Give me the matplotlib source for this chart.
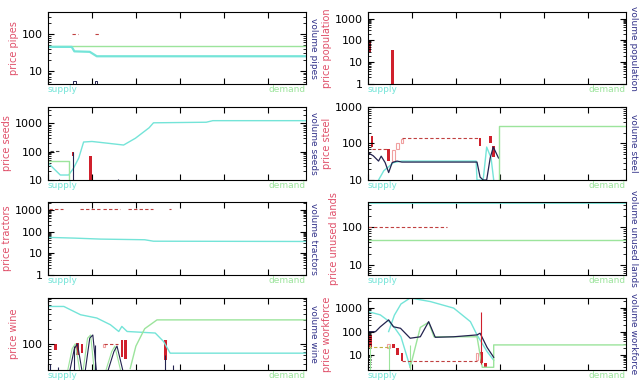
import matplotlib
matplotlib.use("Agg")
import matplotlib.pyplot as plt
from matplotlib.ticker import LogLocator, FuncFormatter, NullFormatter

# colours
CYAN = "#74e4d8"
GREEN = "#9ce49c"
NAVY = "#23234f"
RED = "#d0202c"
PINK = "#f0a0a0"
DASH = "#c04040"

# ---- pipes ----
pipes_green_x = [0, 587]
pipes_green_y = [47, 47]
pipes_cyan_x = [0, 54, 60, 95, 111, 587]
pipes_cyan_y = [45, 45, 34, 33, 25, 25]
pipes_price = [(54, 68, 100), (107, 118, 102)]
pipes_vol_box = [(60, 4.4, 5.2), (109, 4.4, 5.2)]

# ---- population ----
pop_bar_x = [3, 56]
pop_bar_lo = [30, 1]
pop_bar_hi = [100, 35]

# ---- seeds ----
seeds_cyan_x = [0, 28, 47, 58, 70, 81, 100, 135, 172, 199, 230, 240, 360, 375, 587]
seeds_cyan_y = [40, 15, 15, 26, 60, 220, 230, 200, 172, 300, 700, 1050, 1100, 1250, 1250]
seeds_green_x = [0, 47, 47]
seeds_green_y = [48, 48, 10]
seeds_price = [(5, 30, 105)]
seeds_candle_x = [57, 96]
seeds_candle_lo = [70, 10]
seeds_candle_hi = [95, 70]
seeds_vol_x = [57, 25, 160]
seeds_vol_hi = [95, 11, 11]

# ---- steel ----
steel_navy_x = [0, 12, 24, 30, 39, 47, 55, 66, 77, 248, 255, 262, 270, 278, 285, 290, 297]
steel_navy_y = [56, 46, 33, 45, 30, 16, 30, 33, 31, 31, 12, 10, 10, 40, 80, 60, 40]
steel_cyan_x = [24, 36, 45, 58, 77, 246, 248, 262, 270, 280, 286]
steel_cyan_y = [10, 18, 22, 30, 33, 33, 10, 10, 80, 40, 10]
steel_green_x = [297, 297, 587]
steel_green_y = [10, 300, 300]
steel_price = [(9, 47, 72), (77, 255, 145)]
steel_candle_x = [9, 47, 255, 278, 286]
steel_candle_lo = [78, 33, 83, 100, 42]
steel_candle_hi = [160, 70, 146, 160, 83]
steel_open_x = [58, 67, 77]
steel_open_lo = [33, 70, 100]
steel_open_hi = [65, 100, 130]

# ---- tractors ----
tractors_cyan_x = [0, 60, 120, 220, 240, 587]
tractors_cyan_y = [54, 50, 45, 42, 36, 35]
tractors_price = [(2, 35, 1050), (73, 118, 1050), (126, 164, 1050), (183, 240, 1050), (276, 280, 1050)]

# ---- unused lands ----
lands_green_y = [46, 46]
lands_cyan_y = [470, 470]
lands_price = [(0, 180, 100)]

# ---- wine ----
wine_cyan_x = [0, 36, 74, 111, 142, 161, 168, 180, 244, 263, 278, 587]
wine_cyan_y = [556, 556, 380, 327, 240, 176, 222, 176, 164, 111, 65, 65]
wine_green_x = [187, 200, 220, 248, 587]
wine_green_y = [32, 90, 200, 300, 300]
wine_arc_x = [[45, 55, 62, 72], [80, 90, 97, 105], [132, 145, 152, 165]]
wine_arc_y = [[30, 80, 100, 30], [30, 130, 150, 30], [30, 70, 90, 30]]
wine_candle_x = [17, 67, 77, 168, 176, 267]
wine_candle_lo = [75, 60, 65, 55, 50, 48]
wine_candle_hi = [100, 105, 100, 120, 120, 118]
wine_open_x = [127]
wine_open_lo = [88]
wine_open_hi = [100]
wine_vol_x = [5, 22, 60, 108, 267, 285]
wine_vol_hi = [40, 35, 90, 95, 60, 38]

# ---- workforce ----
work_navy_x = [0, 17, 28, 47, 58, 74, 96, 119, 138, 153, 195, 248, 255, 271, 286]
work_navy_y = [99, 99, 160, 315, 160, 138, 52, 60, 265, 57, 60, 72, 85, 21, 8]
work_cyanA_x = [0, 28, 47, 60, 75, 96]
work_cyanA_y = [715, 515, 280, 150, 60, 3]
work_cyanB_x = [47, 60, 75, 96, 142, 195, 233, 248, 271, 286]
work_cyanB_y = [100, 500, 1500, 2700, 1900, 1000, 265, 72, 14, 6]
work_green_x = [96, 119, 138, 150, 248, 260, 286, 286, 587]
work_green_y = [3, 150, 250, 60, 60, 3, 3, 27, 27]
work_price = [(0, 47, 23), (77, 248, 5.5)]
work_candle_x = [5, 58, 67, 77, 258, 267]
work_candle_lo = [22, 20, 10, 5.7, 4.5, 3.2]
work_candle_hi = [70, 30, 20, 12, 14, 4.5]
work_open_x = [47, 248]
work_open_lo = [20, 6]
work_open_hi = [30, 12]

fig = plt.figure(figsize=(6.4, 3.82), dpi=100)

lx, rx, w = 48 / 640, 368 / 640, 258 / 640
rows = [(12, 84), (107, 180), (202, 275), (298, 370)]


def make_ax(col, row, name, ylim):
    top, bot = rows[row]
    x0 = lx if col == 0 else rx
    ax = fig.add_axes([x0, 1 - bot / 382, w, (bot - top) / 382])
    ax.set_yscale("log")
    ax.set_xlim(0, 587)
    ax.set_ylim(*ylim)
    ax.set_xticks(range(0, 501, 100))
    ax.set_xticklabels([])
    ax.yaxis.set_major_locator(LogLocator(base=10, numticks=20))
    ax.yaxis.set_minor_locator(LogLocator(base=10, subs=range(2, 10), numticks=20))
    ax.yaxis.set_major_formatter(FuncFormatter(lambda v, p: "%g" % v))
    ax.yaxis.set_minor_formatter(NullFormatter())
    ax.tick_params(which="both", direction="in", top=True, right=True, labelsize=8)
    ax.tick_params(which="major", length=4)
    ax.tick_params(which="minor", length=2)
    for s in ax.spines.values():
        s.set_linewidth(0.8)
    ax.set_ylabel("price " + name, color="#e0506a", fontsize=7, labelpad=2)
    ax.text(1.012, 0.5, "volume " + name, color="#33338a", fontsize=6.5,
            rotation=270, va="center", ha="left", transform=ax.transAxes)
    ax.text(0.0, -0.02, "supply", color=CYAN, fontsize=6.5, va="top",
            ha="left", transform=ax.transAxes)
    ax.text(1.0, -0.02, "demand", color=GREEN, fontsize=6.5, va="top",
            ha="right", transform=ax.transAxes)
    return ax


def dashes(ax, segs, color=DASH):
    for a, b, y in segs:
        ax.plot([a, b], [y, y], color=color, lw=0.8, ls=(0, (3, 2)))


def candles(ax, xs, lo, hi, filled=True, width=6):
    hs = [h - l for l, h in zip(lo, hi)]
    if filled:
        ax.bar(xs, hs, bottom=lo, width=width, color=RED, lw=0)
    else:
        ax.bar(xs, hs, bottom=lo, width=width, fill=False, edgecolor=PINK, lw=0.8)


# pipes
ax = make_ax(0, 0, "pipes", (4.4, 400))
ax.plot(pipes_green_x, pipes_green_y, color=GREEN, lw=1)
ax.plot(pipes_cyan_x, pipes_cyan_y, color=CYAN, lw=1.6)
dashes(ax, [(a, b, y) for a, b, y in pipes_price])
for x, l, h in pipes_vol_box:
    ax.bar([x], [h - l], bottom=[l], width=6, fill=False, edgecolor=NAVY, lw=0.7)

# population
ax = make_ax(1, 0, "population", (1, 2000))
ax.bar(pop_bar_x, [h - l for l, h in zip(pop_bar_lo, pop_bar_hi)],
       bottom=pop_bar_lo, width=6, color=["#a01020", RED], lw=0)

# seeds
ax = make_ax(0, 1, "seeds", (10, 3800))
ax.plot(seeds_cyan_x, seeds_cyan_y, color=CYAN, lw=1)
ax.plot(seeds_green_x, seeds_green_y, color=GREEN, lw=1)
dashes(ax, seeds_price, color="#404040")
candles(ax, seeds_candle_x, seeds_candle_lo, seeds_candle_hi)
ax.vlines(seeds_vol_x, 10, seeds_vol_hi, color=NAVY, lw=0.8)

# steel
ax = make_ax(1, 1, "steel", (10, 1000))
ax.plot(steel_cyan_x, steel_cyan_y, color=CYAN, lw=1)
ax.plot(steel_navy_x, steel_navy_y, color=NAVY, lw=0.9)
ax.plot(steel_green_x, steel_green_y, color=GREEN, lw=1)
dashes(ax, steel_price)
candles(ax, steel_candle_x, steel_candle_lo, steel_candle_hi)
candles(ax, steel_open_x, steel_open_lo, steel_open_hi, filled=False)

# tractors
ax = make_ax(0, 2, "tractors", (1, 2300))
ax.plot(tractors_cyan_x, tractors_cyan_y, color=CYAN, lw=1)
dashes(ax, tractors_price)

# unused lands
ax = make_ax(1, 2, "unused lands", (5.4, 470))
ax.plot([0, 587], lands_green_y, color=GREEN, lw=1)
ax.plot([0, 587], lands_cyan_y, color=CYAN, lw=2)
dashes(ax, lands_price)

# wine
ax = make_ax(0, 3, "wine", (30, 820))
ax.plot(wine_cyan_x, wine_cyan_y, color=CYAN, lw=1)
ax.plot(wine_green_x, wine_green_y, color=GREEN, lw=1)
for xs, ys in zip(wine_arc_x, wine_arc_y):
    ax.plot(xs, ys, color=GREEN, lw=0.8)
    ax.plot([x + 5 for x in xs], ys, color=NAVY, lw=0.8)
ax.vlines(wine_vol_x, 30, wine_vol_hi, color=NAVY, lw=0.8)
candles(ax, wine_candle_x, wine_candle_lo, wine_candle_hi)
candles(ax, wine_open_x, wine_open_lo, wine_open_hi, filled=False)
dashes(ax, [(127, 160, 97)])

# workforce
ax = make_ax(1, 3, "workforce", (2.3, 2700))
ax.plot(work_cyanA_x, work_cyanA_y, color=CYAN, lw=1)
ax.plot(work_cyanB_x, work_cyanB_y, color=CYAN, lw=1)
ax.plot(work_green_x, work_green_y, color=GREEN, lw=1)
ax.vlines([5, 47, 96], 2.3, 27, color=GREEN, lw=0.8)
ax.plot(work_navy_x, work_navy_y, color=NAVY, lw=0.9)
dashes(ax, work_price[:1], color="#c0b040")
dashes(ax, work_price[1:])
ax.vlines([258], 4, 700, color=RED, lw=0.8)
candles(ax, work_candle_x, work_candle_lo, work_candle_hi)
candles(ax, work_open_x, work_open_lo, work_open_hi, filled=False)

fig.savefig("out.png", dpi=100)
